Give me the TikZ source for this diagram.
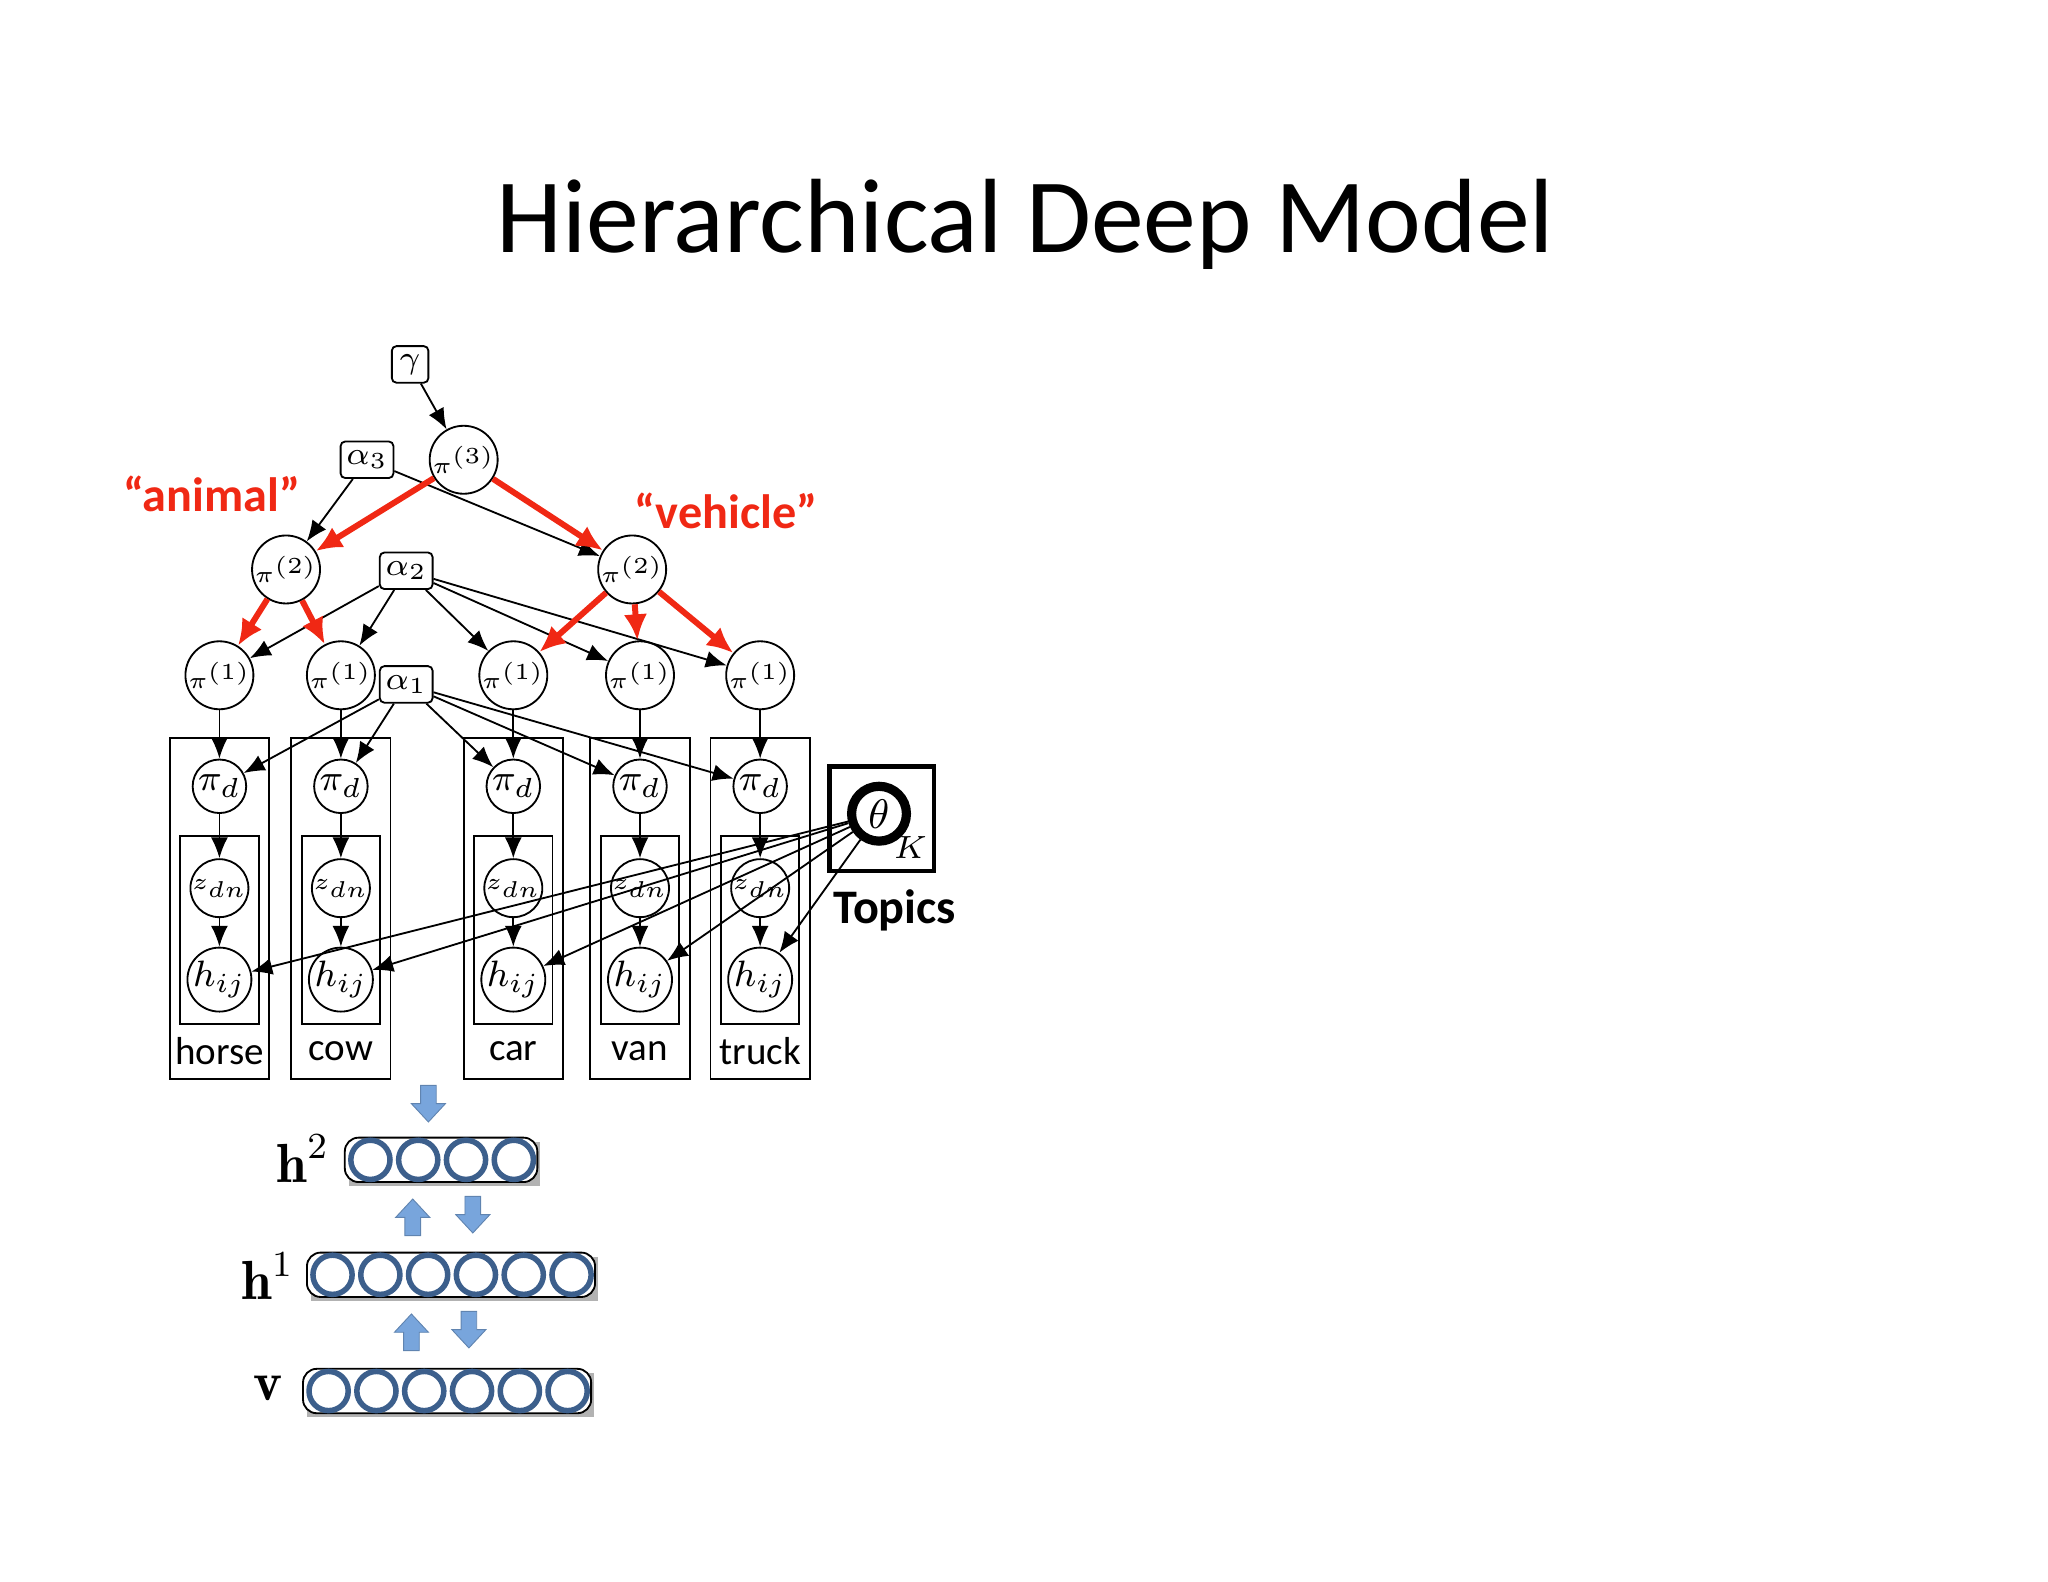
\documentclass[tikz,border=0pt]{standalone}
\usepackage{fontspec}
\setmainfont{Carlito}
\usepackage{amsmath}
\usetikzlibrary{arrows.meta}
\definecolor{hdred}{RGB}{240,40,20}
\definecolor{unitblue}{RGB}{60,95,140}
\definecolor{arrowblue}{RGB}{120,165,220}
\tikzset{
  var/.style={circle,draw,inner sep=0pt,minimum size=4.1mm,font=\tiny},
  hyper/.style={rectangle,draw,rounded corners=1pt,inner sep=1.2pt,minimum size=2.8mm,font=\scriptsize},
  edge/.style={-{Latex[length=1.6mm,width=1.3mm]},thin},
  redge/.style={-{Latex[length=2mm,width=1.8mm]},hdred,line width=1.3pt},
  unit/.style={circle,draw=unitblue,line width=1.2pt,minimum size=3mm,inner sep=0pt},
  blk/.style={fill=arrowblue,draw=arrowblue!80!black,line width=0.2pt}
}
\newcommand{\serifbold}[1]{{\usefont{TU}{lmr}{b}{n}#1}}
\newcommand{\blockdown}[2]{\fill[blk] (#1-6,#2-14) -- (#1+6,#2-14) -- (#1+6,#2) -- (#1+13,#2) -- (#1,#2+14) -- (#1-13,#2) -- (#1-6,#2) -- cycle;}
\newcommand{\blockup}[2]{\fill[blk] (#1-6,#2+14) -- (#1+6,#2+14) -- (#1+6,#2) -- (#1+13,#2) -- (#1,#2-14) -- (#1-13,#2) -- (#1-6,#2) -- cycle;}
\begin{document}
\begin{tikzpicture}[x=0.1mm,y=-0.1mm]
\useasboundingbox (0,0) rectangle (1568,1211);
\node at (785,172) {\fontsize{23}{27}\selectfont Hierarchical Deep Model};
% top of the tree
\node[hyper] (gamma) at (314,279) {$\gamma$};
\node[var] (p3) at (355,352) {$\pi^{(3)}$};
\node[hyper] (a3) at (281,352) {$\alpha_3$};
\node[var] (p2a) at (219,436) {$\pi^{(2)}$};
\node[var] (p2b) at (484,436) {$\pi^{(2)}$};
\node[hyper] (a2) at (311,437) {$\alpha_2$};
\node[hyper] (a1) at (311,524) {$\alpha_1$};
\node[font=\bfseries\fontsize{10.5}{12}\selectfont,text=hdred] at (162,378) {“animal”};
\node[font=\bfseries\fontsize{10.5}{12}\selectfont,text=hdred] at (556,391) {“vehicle”};
% topics
\node[circle,draw,line width=2pt,minimum size=4.2mm,inner sep=0pt,font=\small] (theta) at (673,623) {$\theta$};
\draw[line width=1pt] (635,587) rectangle (715,667);
\node[font=\scriptsize] at (697,649) {$K$};
\node[font=\bfseries\fontsize{10.5}{12}\selectfont] at (685,697) {Topics};
% documents
\foreach \x/\name/\lab in {168/1/horse,261/2/cow,393/3/car,490/4/van,582/5/truck}{
  \node[var] (p1\name) at (\x,517) {$\pi^{(1)}$};
  \node[var,font=\footnotesize] (pd\name) at (\x,602) {$\pi_d$};
  \node[var] (z\name) at (\x,680) {$z_{dn}$};
  \node[var,font=\footnotesize] (h\name) at (\x,750) {$h_{ij}$};
  \draw (\x-38,565) rectangle (\x+38,826);
  \draw (\x-30,640) rectangle (\x+30,784);
  \node[font=\fontsize{8.5}{10}\selectfont] at (\x,805) {\lab};
  \draw[edge] (p1\name) -- (pd\name);
  \draw[edge] (pd\name) -- (z\name);
  \draw[edge] (z\name) -- (h\name);
  \draw[edge] (a2) -- (p1\name);
  \draw[edge] (a1) -- (pd\name);
  \draw[edge] (theta) -- (h\name);
}
\draw[edge] (gamma) -- (p3);
\draw[edge] (a3) -- (p2a);
\draw[edge] (a3) -- (p2b);
\draw[redge] (p3) -- (p2a);
\draw[redge] (p3) -- (p2b);
\draw[redge] (p2a) -- (p11);
\draw[redge] (p2a) -- (p12);
\foreach \n in {3,4,5}{\draw[redge] (p2b) -- (p1\n);}
% deep network
\foreach \y/\xa/\n/\nm in {888/264/4/htwo,976/235/6/hone,1065/232/6/vis}{
  \fill[gray!60] (\xa+3,\y-14) rectangle (\xa+\n*36.6+3,\y+20);
  \draw[rounded corners=3pt,fill=white] (\xa,\y-17) rectangle (\xa+\n*36.6+1,\y+17);
  \foreach \k in {1,...,\n}{\node[unit] (\nm\k) at (\xa-17+\k*36.6,\y) {};}
}
\node at (232,887) {\large $\text{\serifbold{h}}^2$};
\node at (205,977) {\large $\text{\serifbold{h}}^1$};
\node at (205,1063) {\large \serifbold{v}};
\blockdown{328}{845}
\blockup{316}{932}
\blockdown{362}{930}
\blockup{315}{1020}
\blockdown{359}{1018}
\end{tikzpicture}
\end{document}
